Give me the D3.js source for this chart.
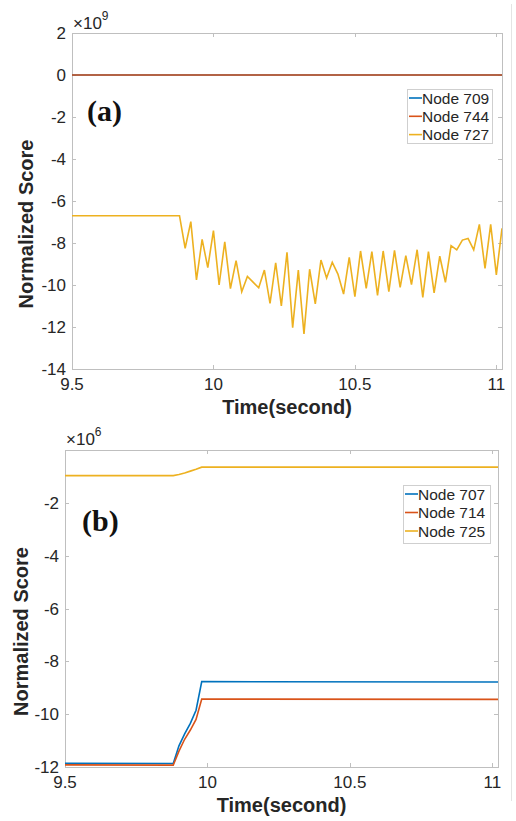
<!DOCTYPE html>
<html>
<head>
<meta charset="utf-8">
<script src="https://cdn.jsdelivr.net/npm/d3@7"></script>
<style>
  body { margin: 0; background: #fff; }
  svg { display: block; }
  text { font-family: "Liberation Sans", Arial, Helvetica, sans-serif; fill: #262626; }
</style>
</head>
<body>
<div id="svgcontainer"></div>
<script>

// panel (a): values in units of 1e9
var timeA = [9.5, 11.02];
var node709 = [0, 0];
var node744 = [0, 0];
var time727 = [9.50, 9.88, 9.90, 9.92, 9.94, 9.96, 9.98, 10.00, 10.02, 10.04, 10.06, 10.08, 10.10,
  10.12, 10.14, 10.16, 10.18, 10.20, 10.22, 10.24, 10.26, 10.28, 10.30, 10.32, 10.34, 10.36,
  10.38, 10.40, 10.42, 10.44, 10.46, 10.48, 10.50, 10.52, 10.54, 10.56, 10.58, 10.60, 10.62,
  10.64, 10.66, 10.68, 10.70, 10.72, 10.74, 10.76, 10.78, 10.80, 10.82, 10.84, 10.86, 10.88,
  10.90, 10.92, 10.94, 10.96, 10.98, 11.00, 11.02];
var node727 = [-6.7, -6.7, -8.25, -6.98, -9.76, -7.83, -9.17, -7.41, -10.0, -7.94, -10.17, -8.84, -10.32,
  -9.59, -9.86, -10.13, -9.29, -10.87, -8.94, -11.0, -8.44, -12.03, -9.29, -12.33, -9.25, -10.9,
  -8.81, -9.67, -8.92, -9.48, -10.43, -8.68, -10.56, -8.38, -10.16, -8.41, -10.49, -8.38, -10.32,
  -8.35, -10.11, -8.6, -9.98, -8.32, -10.59, -8.41, -10.37, -8.63, -9.87, -8.13, -8.33, -7.86,
  -7.78, -8.33, -7.11, -9.21, -7.11, -9.52, -7.3];

// panel (b): values in units of 1e6
var timeB = [9.50, 9.88, 9.90, 9.92, 9.94, 9.96, 9.98, 11.02];
var node707 = [-11.86, -11.87, -11.2, -10.75, -10.35, -9.85, -8.77, -8.78];
var node714 = [-11.92, -11.93, -11.4, -10.95, -10.6, -10.2, -9.43, -9.44];
var node725 = [-0.97, -0.97, -0.93, -0.87, -0.8, -0.73, -0.65, -0.65];

var xTicks = [9.5, 10, 10.5, 11];
var yTicksA = [2, 0, -2, -4, -6, -8, -10, -12, -14];
var yTicksB = [-2, -4, -6, -8, -10, -12];

var colors = ["#0072BD", "#D95319", "#EDB120"];

var W = 516, H = 821;
var svg = d3.select("div#svgcontainer").append("svg")
    .attr("width", W).attr("height", H);

function zip(t, v) { return t.map(function(d, i){ return {t: d, v: v[i]}; }); }

var panels = [
  {
    left: 72, right: 502, top: 33, bottom: 369,
    xDomain: [9.5, 11.02], yDomain: [-14, 2], yTicks: yTicksA,
    exp: "9", expX: 73, expY: 29,
    tag: "(a)", tagX: 87, tagY: 121,
    legend: {x: 407, y: 89, w: 85, h: 54, rowH: 18.3},
    xlabelY: 414, ylabelX: 33,
    series: [
      {label: "Node 709", pts: zip(timeA, node709)},
      {label: "Node 744", pts: zip(timeA, node744)},
      {label: "Node 727", pts: zip(time727, node727)}
    ]
  },
  {
    left: 65, right: 498, top: 450, bottom: 767,
    xDomain: [9.5, 11.02], yDomain: [-12, 0], yTicks: yTicksB,
    exp: "6", expX: 66, expY: 445,
    tag: "(b)", tagX: 82, tagY: 531,
    legend: {x: 403, y: 485, w: 87, h: 58, rowH: 18.5},
    xlabelY: 812, ylabelX: 28,
    series: [
      {label: "Node 707", pts: zip(timeB, node707)},
      {label: "Node 714", pts: zip(timeB, node714)},
      {label: "Node 725", pts: zip(timeB, node725)}
    ]
  }
];

// thin gray edge at the right side of the picture
svg.append("line")
    .attr("x1", 511.5).attr("x2", 511.5).attr("y1", 4).attr("y2", H - 20)
    .attr("stroke", "#e4e4e4").attr("stroke-width", 1);

panels.forEach(function(p, pi){
  var x = d3.scaleLinear().domain(p.xDomain).range([p.left, p.right]);
  var y = d3.scaleLinear().domain(p.yDomain).range([p.bottom, p.top]);
  var g = svg.append("g");
  var axisColor = "#bfbfbf";

  g.append("clipPath").attr("id", "clip" + pi)
    .append("rect")
      .attr("x", p.left).attr("y", p.top)
      .attr("width", p.right - p.left).attr("height", p.bottom - p.top);

  // box
  g.append("rect")
      .attr("x", p.left + 0.5).attr("y", p.top + 0.5)
      .attr("width", p.right - p.left).attr("height", p.bottom - p.top)
      .attr("fill", "none").attr("stroke", axisColor);

  // inward ticks on all four sides
  var tl = 4;
  var xt = g.append("g").attr("stroke", axisColor);
  xTicks.forEach(function(t){
    var px = Math.round(x(t)) + 0.5;
    xt.append("line").attr("x1", px).attr("x2", px).attr("y1", p.bottom).attr("y2", p.bottom - tl);
    xt.append("line").attr("x1", px).attr("x2", px).attr("y1", p.top).attr("y2", p.top + tl);
  });
  p.yTicks.forEach(function(t){
    var py = Math.round(y(t)) + 0.5;
    xt.append("line").attr("x1", p.left).attr("x2", p.left + tl).attr("y1", py).attr("y2", py);
    xt.append("line").attr("x1", p.right).attr("x2", p.right - tl).attr("y1", py).attr("y2", py);
  });

  g.selectAll(".xl").data(xTicks).enter().append("text")
      .attr("x", function(d){ return x(d); })
      .attr("y", p.bottom + 21)
      .attr("text-anchor", "middle")
      .style("font-size", "17px")
      .text(function(d){ return d; });

  g.selectAll(".yl").data(p.yTicks).enter().append("text")
      .attr("x", p.left - 6)
      .attr("y", function(d){ return y(d); })
      .attr("dy", "0.36em")
      .attr("text-anchor", "end")
      .style("font-size", "17px")
      .text(function(d){ return d; });

  // exponent
  var ex = g.append("text").attr("x", p.expX).attr("y", p.expY).style("font-size", "17px");
  ex.append("tspan").text("\u00d710");
  ex.append("tspan").attr("dy", -9).style("font-size", "12px").text(p.exp);

  // lines
  var line = d3.line()
      .x(function(d){ return x(d.t); })
      .y(function(d){ return y(d.v); });
  var lg = g.append("g").attr("clip-path", "url(#clip" + pi + ")");
  p.series.forEach(function(s, i){
    lg.append("path")
        .attr("d", line(s.pts))
        .attr("fill", "none")
        .attr("stroke", colors[i])
        .attr("stroke-width", 1.6);
  });

  // panel tag
  g.append("text")
      .attr("x", p.tagX).attr("y", p.tagY)
      .style("font-family", "'Liberation Serif', 'Times New Roman', serif")
      .style("font-weight", "bold")
      .style("font-size", "30px")
      .style("fill", "#111")
      .text(p.tag);

  // legend
  var L = p.legend;
  var leg = g.append("g");
  leg.append("rect")
      .attr("x", L.x + 0.5).attr("y", L.y + 0.5)
      .attr("width", L.w).attr("height", L.h)
      .attr("fill", "#fff").attr("stroke", "#cfcfcf");
  p.series.forEach(function(s, i){
    var cy = L.y + 9 + i * L.rowH;
    leg.append("line")
        .attr("x1", L.x + 2).attr("x2", L.x + 15)
        .attr("y1", cy).attr("y2", cy)
        .attr("stroke", colors[i]).attr("stroke-width", 1.6);
    leg.append("text")
        .attr("x", L.x + 15).attr("y", cy).attr("dy", "0.36em")
        .style("font-size", "15.5px")
        .text(s.label);
  });

  // axis labels
  g.append("text")
      .attr("x", (p.left + p.right) / 2).attr("y", p.xlabelY)
      .attr("text-anchor", "middle")
      .style("font-weight", "bold").style("font-size", "20px")
      .text("Time(second)");
  g.append("text")
      .attr("transform", "translate(" + p.ylabelX + "," + ((p.top + p.bottom) / 2 + 23) + ") rotate(-90)")
      .attr("text-anchor", "middle")
      .style("font-weight", "bold").style("font-size", "20px")
      .text("Normalized Score");
});

</script>
</body>
</html>
